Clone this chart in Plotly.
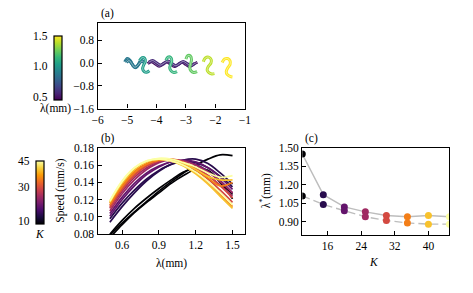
import plotly.graph_objects as go
from plotly.colors import sample_colorscale

W, H = 473, 293
FONT = "Liberation Serif"

# ---------------- data ----------------
# panel (b): speed vs wavelength, one list of curves per K
LAM = [0.5, 0.6, 0.7, 0.8, 0.9, 1.0, 1.1, 1.2, 1.3, 1.4, 1.5]
K_VALUES = [10, 15, 20, 25, 30, 35, 40, 45]
SPEED = {
    10: [[0.079, 0.093, 0.106, 0.118, 0.130, 0.141, 0.151, 0.160, 0.167, 0.172, 0.171],
         [0.076, 0.091, 0.105, 0.117, 0.128, 0.139, 0.148, 0.155, 0.153, 0.140, 0.121],
         [0.080, 0.096, 0.110, 0.122, 0.133, 0.143, 0.152, 0.157, 0.154, 0.141, 0.126]],
    15: [[0.094, 0.112, 0.128, 0.142, 0.153, 0.161, 0.166, 0.167, 0.162, 0.151, 0.138],
         [0.098, 0.116, 0.131, 0.144, 0.154, 0.161, 0.164, 0.163, 0.157, 0.147, 0.135]],
    20: [[0.101, 0.120, 0.136, 0.149, 0.158, 0.164, 0.166, 0.164, 0.157, 0.146, 0.132],
         [0.104, 0.123, 0.139, 0.151, 0.159, 0.164, 0.165, 0.161, 0.153, 0.142, 0.128]],
    25: [[0.107, 0.127, 0.143, 0.155, 0.163, 0.166, 0.165, 0.160, 0.152, 0.141, 0.128],
         [0.110, 0.130, 0.146, 0.157, 0.164, 0.166, 0.163, 0.157, 0.148, 0.137, 0.124]],
    30: [[0.111, 0.132, 0.148, 0.159, 0.165, 0.167, 0.164, 0.157, 0.148, 0.136, 0.122],
         [0.113, 0.134, 0.150, 0.160, 0.166, 0.166, 0.162, 0.154, 0.144, 0.131, 0.117]],
    35: [[0.114, 0.135, 0.151, 0.161, 0.166, 0.167, 0.163, 0.155, 0.145, 0.136, 0.140],
         [0.116, 0.137, 0.153, 0.162, 0.166, 0.165, 0.160, 0.151, 0.140, 0.126, 0.112]],
    40: [[0.117, 0.139, 0.155, 0.164, 0.167, 0.166, 0.162, 0.155, 0.147, 0.143, 0.143],
         [0.118, 0.140, 0.156, 0.164, 0.167, 0.165, 0.159, 0.150, 0.138, 0.124, 0.110]],
    45: [[0.118, 0.141, 0.157, 0.165, 0.168, 0.167, 0.163, 0.158, 0.151, 0.146, 0.148],
         [0.119, 0.142, 0.157, 0.165, 0.167, 0.165, 0.160, 0.152, 0.141, 0.128, 0.114]],
}

# panel (c): optimal wavelength vs K
K_OPT = [10, 15, 20, 25, 30, 35, 40, 45]
LAM_OPT_SOLID = [1.45, 1.12, 1.02, 0.98, 0.95, 0.94, 0.95, 0.94]
LAM_OPT_DASH = [1.11, 1.04, 0.99, 0.94, 0.91, 0.89, 0.88, 0.88]

# panel (a): worm shapes (x, y in mm) with their wavelength
WORMS = [
    (0.90, [-5.08, -4.99, -4.90, -4.81, -4.72, -4.63, -4.54, -4.45],
           [0.04, 0.16, 0.10, -0.06, -0.16, -0.08, 0.08, 0.06]),
    (0.90, [-5.05, -4.96, -4.87, -4.78, -4.69, -4.60, -4.51, -4.42],
           [0.06, 0.12, 0.03, -0.11, -0.15, -0.03, 0.09, 0.02]),
    (0.90, [-5.02, -4.93, -4.84, -4.75, -4.66, -4.57, -4.48, -4.40],
           [0.02, 0.09, -0.02, -0.14, -0.11, 0.01, 0.07, -0.02]),
    (0.55, [-4.30, -4.17, -4.04, -3.91, -3.78, -3.65, -3.52, -3.39, -3.26, -3.13, -3.00, -2.87, -2.74, -2.61],
           [-0.02, 0.05, -0.03, -0.11, -0.04, 0.04, -0.04, -0.12, -0.05, 0.03, -0.05, -0.12, -0.04, 0.03]),
    (0.62, [-4.26, -4.13, -4.00, -3.87, -3.74, -3.61, -3.48, -3.35, -3.22, -3.09, -2.96, -2.83, -2.70],
           [0.03, 0.09, 0.01, -0.07, 0.00, 0.07, -0.01, -0.09, -0.02, 0.06, -0.02, -0.09, -0.01]),
    (1.05, [-4.58, -4.49, -4.40, -4.38, -4.44, -4.47, -4.42, -4.33, -4.24],
           [0.08, 0.19, 0.17, 0.05, -0.08, -0.20, -0.30, -0.32, -0.27]),
    (1.15, [-3.68, -3.61, -3.52, -3.48, -3.52, -3.55, -3.50, -3.41, -3.30],
           [0.10, 0.21, 0.20, 0.08, -0.05, -0.17, -0.28, -0.33, -0.30]),
    (1.25, [-3.00, -2.94, -2.85, -2.81, -2.84, -2.87, -2.83, -2.74, -2.62],
           [0.14, 0.26, 0.25, 0.12, -0.02, -0.15, -0.27, -0.33, -0.30]),
    (1.40, [-2.41, -2.34, -2.23, -2.14, -2.15, -2.24, -2.28, -2.23, -2.12, -2.03],
           [0.05, 0.18, 0.21, 0.12, 0.00, -0.12, -0.24, -0.33, -0.38, -0.37]),
    (1.50, [-1.77, -1.69, -1.58, -1.50, -1.50, -1.58, -1.63, -1.60, -1.50, -1.42],
           [0.02, 0.14, 0.16, 0.08, -0.05, -0.17, -0.30, -0.40, -0.47, -0.49]),
]

# tick labels
A_XTICKS = [-6, -5, -4, -3, -2, -1]
A_YTICKS = [0.8, 0.0, -0.8, -1.6]
B_XTICKS = [0.6, 0.9, 1.2, 1.5]
B_YTICKS = [0.08, 0.10, 0.12, 0.14, 0.16, 0.18]
C_XTICKS = [16, 24, 32, 40]
C_YTICKS = [0.90, 1.05, 1.20, 1.35, 1.50]


def fx(px):
    return px / W


def fy(py):
    return 1 - py / H


def kcol(k):
    return sample_colorscale("Inferno", [(k - 10) / 35])[0]


def lcol(l):
    return sample_colorscale("Viridis", [(l - 0.5) / 1.0])[0]


def minus(v, fmt):
    return (fmt % v).replace("-", "\u2212")


fig = go.Figure()

# ---- panel (a) ----
for lam, xs, ys in WORMS:
    fig.add_trace(go.Scatter(x=xs, y=ys, mode="lines", xaxis="x", yaxis="y",
                             line=dict(color=lcol(lam), width=3.0, shape="spline"),
                             showlegend=False, hoverinfo="skip"))
    fig.add_trace(go.Scatter(x=xs, y=ys, mode="lines", xaxis="x", yaxis="y",
                             line=dict(color="rgba(255,255,255,0.6)", width=0.8, shape="spline"),
                             showlegend=False, hoverinfo="skip"))

# colorbar (a)
fig.add_trace(go.Scatter(x=[None, None], y=[None, None], mode="markers", xaxis="x", yaxis="y",
                         marker=dict(color=[0.5, 1.5], cmin=0.5, cmax=1.5, colorscale="Viridis",
                                     showscale=True,
                                     colorbar=dict(x=fx(49), xanchor="left", y=fy(31), yanchor="top",
                                                   len=64, lenmode="pixels", thickness=8,
                                                   thicknessmode="pixels", xpad=0, ypad=0,
                                                   outlinewidth=1.2, outlinecolor="black",
                                                   showticklabels=False, ticks="")),
                         showlegend=False, hoverinfo="skip"))

# ---- panel (b) ----
for k in K_VALUES:
    for curve in SPEED[k]:
        fig.add_trace(go.Scatter(x=LAM, y=curve, mode="lines", xaxis="x2", yaxis="y2",
                                 line=dict(color=kcol(k), width=1.7, shape="spline"),
                                 showlegend=False, hoverinfo="skip"))

fig.add_trace(go.Scatter(x=[None, None], y=[None, None], mode="markers", xaxis="x2", yaxis="y2",
                         marker=dict(color=[10, 45], cmin=10, cmax=45, colorscale="Inferno",
                                     showscale=True,
                                     colorbar=dict(x=fx(31), xanchor="left", y=fy(162), yanchor="top",
                                                   len=63, lenmode="pixels", thickness=8,
                                                   thicknessmode="pixels", xpad=0, ypad=0,
                                                   outlinewidth=1.2, outlinecolor="black",
                                                   showticklabels=False, ticks="")),
                         showlegend=False, hoverinfo="skip"))

# ---- panel (c) ----
fig.add_trace(go.Scatter(x=K_OPT, y=LAM_OPT_SOLID, mode="lines", xaxis="x3", yaxis="y3",
                         line=dict(color="#bdbdbd", width=1.4), showlegend=False, hoverinfo="skip"))
fig.add_trace(go.Scatter(x=K_OPT, y=LAM_OPT_DASH, mode="lines", xaxis="x3", yaxis="y3",
                         line=dict(color="#bdbdbd", width=1.4, dash="8px,4px"),
                         showlegend=False, hoverinfo="skip"))
fig.add_trace(go.Scatter(x=K_OPT, y=LAM_OPT_SOLID, mode="markers", xaxis="x3", yaxis="y3",
                         marker=dict(color=[kcol(k) for k in K_OPT], size=7, line=dict(width=0)),
                         showlegend=False, hoverinfo="skip"))
fig.add_trace(go.Scatter(x=K_OPT, y=LAM_OPT_DASH, mode="markers", xaxis="x3", yaxis="y3",
                         marker=dict(color=[kcol(k) for k in K_OPT], size=7, line=dict(width=0)),
                         showlegend=False, hoverinfo="skip"))

axis_common = dict(showline=True, linecolor="black", linewidth=1.4, mirror=True,
                   ticks="inside", ticklen=4, tickwidth=1, tickcolor="black",
                   showgrid=False, zeroline=False,
                   tickfont=dict(family=FONT, size=11.5, color="black"))

fig.update_layout(
    width=W, height=H, margin=dict(l=0, r=0, t=0, b=0),
    paper_bgcolor="white", plot_bgcolor="white",
    font=dict(family=FONT, size=11.5, color="black"),
    xaxis=dict(domain=[fx(94), fx(245)], range=[-6, -1], anchor="y",
               tickvals=A_XTICKS, ticktext=[minus(v, "%d") for v in A_XTICKS], **axis_common),
    yaxis=dict(domain=[fy(107), fy(18)], range=[-1.6, 1.4], anchor="x",
               tickvals=A_YTICKS, ticktext=[minus(v, "%.1f") for v in A_YTICKS], **axis_common),
    xaxis2=dict(domain=[fx(94), fx(245)], range=[0.4, 1.6], anchor="y2",
                tickvals=B_XTICKS, ticktext=["%.1f" % v for v in B_XTICKS], **axis_common),
    yaxis2=dict(domain=[fy(238), fy(148)], range=[0.08, 0.18], anchor="x2",
                tickvals=B_YTICKS, ticktext=["%.2f" % v for v in B_YTICKS], **axis_common),
    xaxis3=dict(domain=[fx(304), fx(455)], range=[10, 45], anchor="y3",
                tickvals=C_XTICKS, ticktext=["%d" % v for v in C_XTICKS], **axis_common),
    yaxis3=dict(domain=[fy(239), fy(148)], range=[0.79, 1.5], anchor="x3",
                tickvals=C_YTICKS, ticktext=["%.2f" % v for v in C_YTICKS], **axis_common),
)

ann = []


def text(x, y, s, xanchor="center", yanchor="middle", angle=0, size=11.5):
    ann.append(dict(x=fx(x), y=fy(y), xref="paper", yref="paper", text=s, showarrow=False,
                    xanchor=xanchor, yanchor=yanchor, textangle=angle,
                    font=dict(family=FONT, size=size, color="black")))


text(95, 8, "(a)", xanchor="left")
text(95, 138, "(b)", xanchor="left")
text(305, 138, "(c)", xanchor="left")
text(170, 268, "λ(mm)")
text(378, 267, "<i>K</i>")
text(56, 193, "Speed (mm/s)", angle=-90)
text(266, 193, "λ<sup>*</sup>(mm)", angle=-90)
# colorbar (a) labels
text(45, 31, "1.5", xanchor="right")
text(45, 63, "1.0", xanchor="right")
text(45, 95, "0.5", xanchor="right")
text(51, 107, "λ(mm)")
# colorbar (b) labels
text(27, 162, "45", xanchor="right")
text(27, 189, "30", xanchor="right")
text(27, 224, "10", xanchor="right")
text(35, 238, "<i>K</i>")

fig.update_layout(annotations=ann)
fig.write_html("out.html", config={"displayModeBar": False},
               post_script="document.body.style.margin='0';document.body.style.overflow='hidden';")
